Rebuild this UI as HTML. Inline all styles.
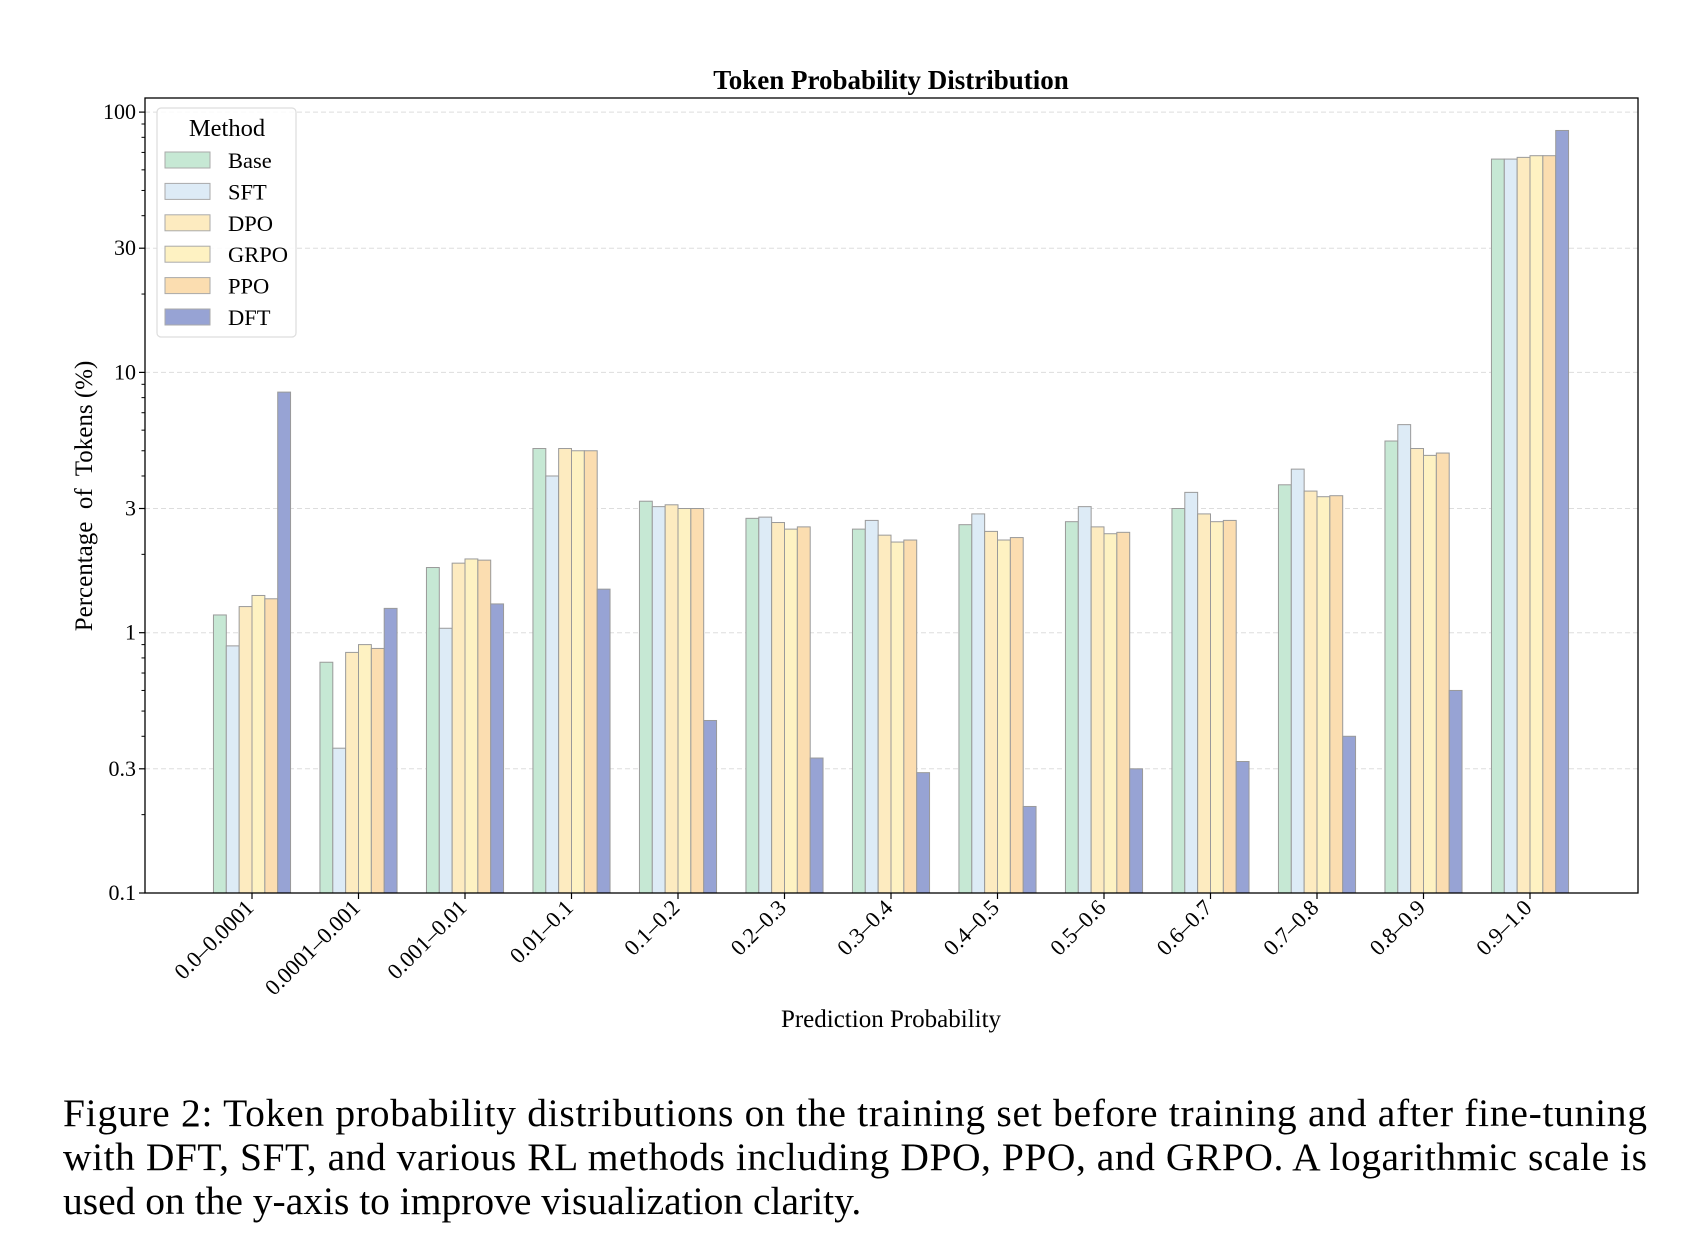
<!DOCTYPE html>
<html><head><meta charset="utf-8"><style>
body{margin:0;background:#fff;}
svg{display:block;font-family:"Liberation Serif",serif;}
</style></head><body>
<svg id="chart" width="1685" height="1259" viewBox="0 0 1685 1259">
<text x="891" y="89" text-anchor="middle" font-size="27" font-weight="bold">Token Probability Distribution</text>
<g id="grid"></g><g id="bars"></g><g id="axes"></g>
<text transform="translate(92,496) rotate(-90)" text-anchor="middle" font-size="25" xml:space="preserve">Percentage  of  Tokens (%)</text>
<text x="891" y="1027" text-anchor="middle" font-size="25">Prediction Probability</text>
<g id="legend"></g>
<text font-size="39.5">
<tspan x="63" y="1126" textLength="1584" lengthAdjust="spacing">Figure 2:  Token probability distributions on the training set before training and after fine-tuning</tspan>
<tspan x="63" y="1170" textLength="1584" lengthAdjust="spacing">with DFT, SFT, and various RL methods including DPO, PPO, and GRPO. A logarithmic scale is</tspan>
<tspan x="63" y="1214">used on the y-axis to improve visualization clarity.</tspan>
</text>
</svg>
<script>
const categories=["0.0–0.0001","0.0001–0.001","0.001–0.01","0.01–0.1","0.1–0.2","0.2–0.3","0.3–0.4","0.4–0.5","0.5–0.6","0.6–0.7","0.7–0.8","0.8–0.9","0.9–1.0"];
const methods=["Base","SFT","DPO","GRPO","PPO","DFT"];
const baseVals=[1.17,0.77,1.78,5.1,3.2,2.75,2.5,2.6,2.67,3.0,3.7,5.45,66];
const sftVals=[0.89,0.36,1.04,4.0,3.05,2.78,2.7,2.86,3.05,3.46,4.25,6.3,66];
const dpoVals=[1.26,0.84,1.85,5.1,3.1,2.65,2.37,2.45,2.55,2.86,3.5,5.1,67];
const grpoVals=[1.39,0.9,1.92,5.0,3.0,2.5,2.23,2.27,2.4,2.67,3.33,4.8,68];
const ppoVals=[1.35,0.87,1.9,5.0,3.0,2.55,2.27,2.32,2.43,2.7,3.36,4.9,68];
const dftVals=[8.4,1.24,1.29,1.47,0.46,0.33,0.29,0.215,0.3,0.32,0.4,0.6,85];
const yTicks=[100,30,10,3,1,0.3,0.1];
const yTickLabels=["100","30","10","3","1","0.3","0.1"];
const series=[baseVals,sftVals,dpoVals,grpoVals,ppoVals,dftVals];
const colors=["#c6e8d4","#ddebf6","#fdebc0","#fef2c2","#fbddb0","#97a3d4"];
const NS="http://www.w3.org/2000/svg";
const L=145,R=1638,T=98,B=893;
const dec=260.3;
function y(v){return B-(Math.log10(v)+1)*dec;}
function x(i){return 252+i*106.5;}
function mk(tag,attrs,parent){const e=document.createElementNS(NS,tag);for(const k in attrs)e.setAttribute(k,attrs[k]);parent.appendChild(e);return e;}
const grid=document.getElementById('grid'),bars=document.getElementById('bars'),axes=document.getElementById('axes'),leg=document.getElementById('legend');
yTicks.forEach((t,i)=>{
 const g=mk('line',{x1:L,x2:R,y1:y(t),y2:y(t),stroke:'#ddd','stroke-dasharray':'5,3','stroke-width':1},grid);
 
 
 const tk=mk('line',{x1:L-6,x2:L,y1:y(t),y2:y(t),stroke:'#000','stroke-width':1.2},axes);
 
 
 const tl=mk('text',{x:L-9,y:y(t)+7,'text-anchor':'end','font-size':22},axes);
 tl.textContent=yTickLabels[i];
 
 
});
for(let d=-1;d<2;d++){for(let m=2;m<10;m++){const v=m*Math.pow(10,d);if(m===3)continue;
 const mt=mk('line',{x1:L-3.5,x2:L,y1:y(v),y2:y(v),stroke:'#000','stroke-width':1},axes);
 
 }}
const bw=12.85;
categories.forEach((c,i)=>{
 series.forEach((s,j)=>{
  const bx=x(i)-3*bw+j*bw, by=y(s[i]);
  const r=mk('rect',{x:bx,y:by,width:bw,height:B-by,fill:colors[j],stroke:'#9a9a9a','stroke-width':1},bars);
  
  
 });
 const tk=mk('line',{x1:x(i),x2:x(i),y1:B,y2:B+6,stroke:'#000','stroke-width':1.2},axes);
 
 
 const tl=mk('text',{transform:`translate(${x(i)+3},${B+16}) rotate(-45)`,'text-anchor':'end','font-size':22.5},axes);
 tl.textContent=c;
 
 
});
const fr=mk('rect',{x:L,y:T,width:R-L,height:B-T,fill:'none',stroke:'#000','stroke-width':1.3},axes);


const lb=mk('rect',{x:157,y:108,width:139,height:229,rx:4,fill:'#fff','fill-opacity':0.85,stroke:'#ddd','stroke-width':1.2},leg);


const lt=mk('text',{x:227,y:136,'text-anchor':'middle','font-size':24.5},leg);
lt.textContent='Method';


methods.forEach((m,j)=>{
 const yy=160+j*31.4;
 const p=mk('rect',{x:165,y:yy-8,width:45,height:16,fill:colors[j],stroke:'#aaa','stroke-width':1},leg);
 
 
 const t=mk('text',{x:228,y:yy+8,'font-size':22.5},leg);
 t.textContent=m;
 
 
});
</script>
</body></html>
